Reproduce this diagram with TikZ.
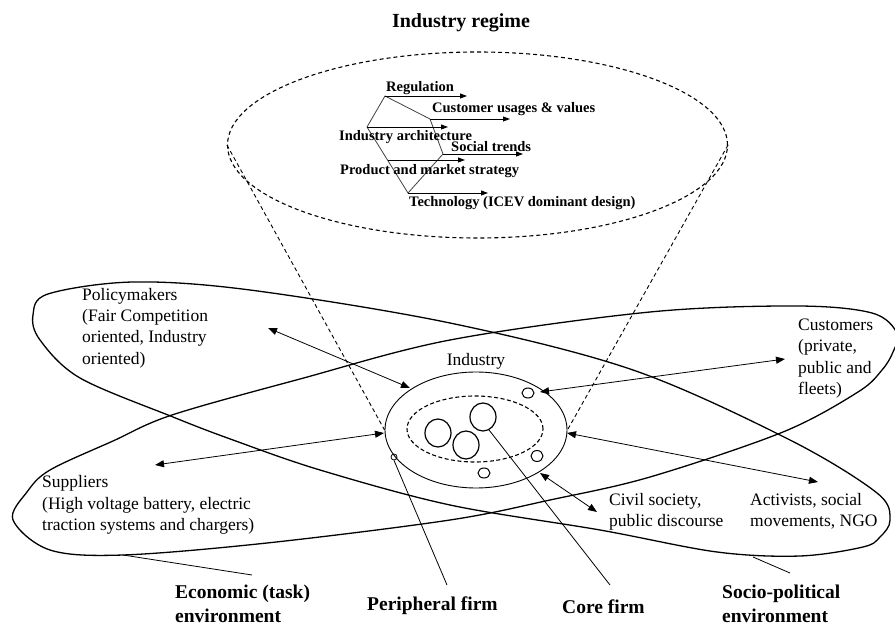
\documentclass[tikz,border=0pt]{standalone}
\usepackage{fontspec}
\setmainfont{Liberation Serif}
\usetikzlibrary{arrows.meta,shapes.geometric}
\begin{document}
\begin{tikzpicture}[x=1pt,y=-1pt,
  env/.style={line width=1.3pt, smooth cycle, tension=0.55},
  dbl/.style={{Triangle[length=9pt,width=7pt]}-{Triangle[length=9pt,width=7pt]}, line width=0.8pt},
  fish/.style={-{Triangle[length=7pt,width=5pt]}, line width=0.9pt},
  poly/.style={line width=0.8pt, draw=black!75},
  lab/.style={font=\fontsize{17.5}{21.3}\selectfont, align=left, inner sep=0pt, anchor=west},
  blab/.style={font=\bfseries\fontsize{19.5}{24}\selectfont, align=left, inner sep=0pt, anchor=west},
  slab/.style={font=\bfseries\fontsize{14.5}{16}\selectfont, inner sep=0pt, anchor=west},
  oval/.style={draw, ellipse, inner sep=0pt},
  leader/.style={line width=0.8pt}
]
\useasboundingbox (0,0) rectangle (895,628);

% environments
\draw[env] plot coordinates {(13,520) (27,492) (50,470) (113,441) (172,415) (300,379) (450,340) (650,312) (797,306) (872,313) (897,333) (893,352) (882,370) (858,392) (783,432) (650,477) (550,500) (450,520) (267,543) (123,555) (50,550)};
\draw[env] plot coordinates {(33,315) (48,294) (133,282) (250,290) (450,323) (633,370) (790,440) (877,493) (890,520) (880,537) (863,547) (800,556) (717,552) (600,530) (450,505) (320,470) (233,440) (173,417) (80,378) (40,340)};

% industry regime ellipse
\node[oval, dashed, dash pattern=on 4pt off 3pt, line width=1.1pt, minimum width=500pt, minimum height=186pt] (regime) at (477.5,145) {};
\node[font=\bfseries\fontsize{20}{24}\selectfont, inner sep=0pt] (title) at (461,23) {Industry regime};

% industry
\node[oval, line width=0.9pt, minimum width=182pt, minimum height=116pt] (ind) at (476,430) {};
\node[oval, dashed, dash pattern=on 4pt off 2.5pt, line width=1.1pt, minimum width=136pt, minimum height=66pt] (inner) at (475,429) {};
\node[font=\fontsize{17.5}{21}\selectfont, inner sep=0pt] (indlab) at (476,361) {Industry};

\node[oval, line width=1.2pt, minimum width=26pt, minimum height=28pt] (c1) at (438,433) {};
\node[oval, line width=1.2pt, minimum width=26pt, minimum height=28pt] (c2) at (466,445) {};
\node[oval, line width=1.2pt, minimum width=26pt, minimum height=28pt] (c3) at (483,417) {};
\node[oval, line width=1pt, minimum width=12pt, minimum height=10pt] (s1) at (528,393) {};
\node[oval, line width=1pt, minimum width=12pt, minimum height=11pt] (s2) at (537,456) {};
\node[oval, line width=1pt, minimum width=12pt, minimum height=10pt] (s3) at (484,473) {};
\node[oval, line width=0.8pt, minimum width=6pt, minimum height=6pt] (pf) at (394,457) {};

% dashed projection lines
\draw[dashed, dash pattern=on 4pt off 3pt, line width=0.9pt] (regime.west) -- (ind.west);
\draw[dashed, dash pattern=on 4pt off 3pt, line width=0.9pt] (regime.east) -- (ind.east);

% fishbone
\coordinate (pA) at (385,96);
\coordinate (pB) at (430,119);
\coordinate (pC) at (443,154);
\coordinate (pD) at (408,193);
\coordinate (pE) at (367,127);
\coordinate (pF) at (387.5,160);
\draw[poly] (pA) -- (pB) -- (pC) -- (pD) -- (pE) -- cycle;
\coordinate (aA) at (467,96);
\coordinate (aB) at (510,119);
\coordinate (aC) at (523,154);
\coordinate (aD) at (488,193);
\coordinate (aE) at (448,127);
\coordinate (aF) at (465,160);
\draw[fish] (pA) -- (aA);
\draw[fish] (pB) -- (aB);
\draw[fish] (pC) -- (aC);
\draw[fish] (pD) -- (aD);
\draw[fish] (pE) -- (aE);
\draw[fish] (pF) -- (aF);
\node[slab] (reg) at (386,88) {Regulation};
\node[slab] (cus) at (432,109) {Customer usages \& values};
\node[slab] (arch) at (339,137) {Industry architecture};
\node[slab] (soc) at (451,147) {Social trends};
\node[slab] (prod) at (340,171) {Product and market strategy};
\node[slab] (tech) at (409,203) {Technology (ICEV dominant design)};

% actors
\node[lab] (pol) at (82,328) {Policymakers\\(Fair Competition\\oriented, Industry\\oriented)};
\node[lab] (cust) at (798,358.5) {Customers\\(private,\\public and\\fleets)};
\node[lab] (sup) at (42,505) {Suppliers\\(High voltage battery, electric\\traction systems and chargers)};
\node[lab] (civ) at (609,511.5) {Civil society,\\public discourse};
\node[lab] (act) at (750,511.5) {Activists, social\\movements, NGO};

% arrows
\coordinate (a1) at (268,328); \coordinate (b1) at (410,388);
\coordinate (a2) at (155,465); \coordinate (b2) at (384,433);
\coordinate (a3) at (540,392); \coordinate (b3) at (785,359);
\coordinate (a4) at (567,433); \coordinate (b4) at (818,482);
\coordinate (a5) at (540,473); \coordinate (b5) at (597,512);
\draw[dbl] (a1) -- (b1);
\draw[dbl] (a2) -- (b2);
\draw[dbl] (a3) -- (b3);
\draw[dbl] (a4) -- (b4);
\draw[dbl] (a5) -- (b5);

% bottom labels
\node[blab] (econ) at (175,604) {Economic (task)\\environment};
\node[blab] (perl) at (367,606) {Peripheral firm};
\node[blab] (corel) at (562,607) {Core firm};
\node[blab] (socl) at (722,604) {Socio-political\\environment};

% leaders
\coordinate (e1) at (123,555); \coordinate (e2) at (252,575);
\coordinate (s1e) at (753,557); \coordinate (s2e) at (790,573);
\coordinate (pe) at (447,585);
\coordinate (ce) at (610,585);
\draw[leader] (e1) -- (e2);
\draw[leader] (s1e) -- (s2e);
\draw[leader] (pf.south) -- (pe);
\draw[leader] (c3.-65) -- (ce);
\end{tikzpicture}
\end{document}
